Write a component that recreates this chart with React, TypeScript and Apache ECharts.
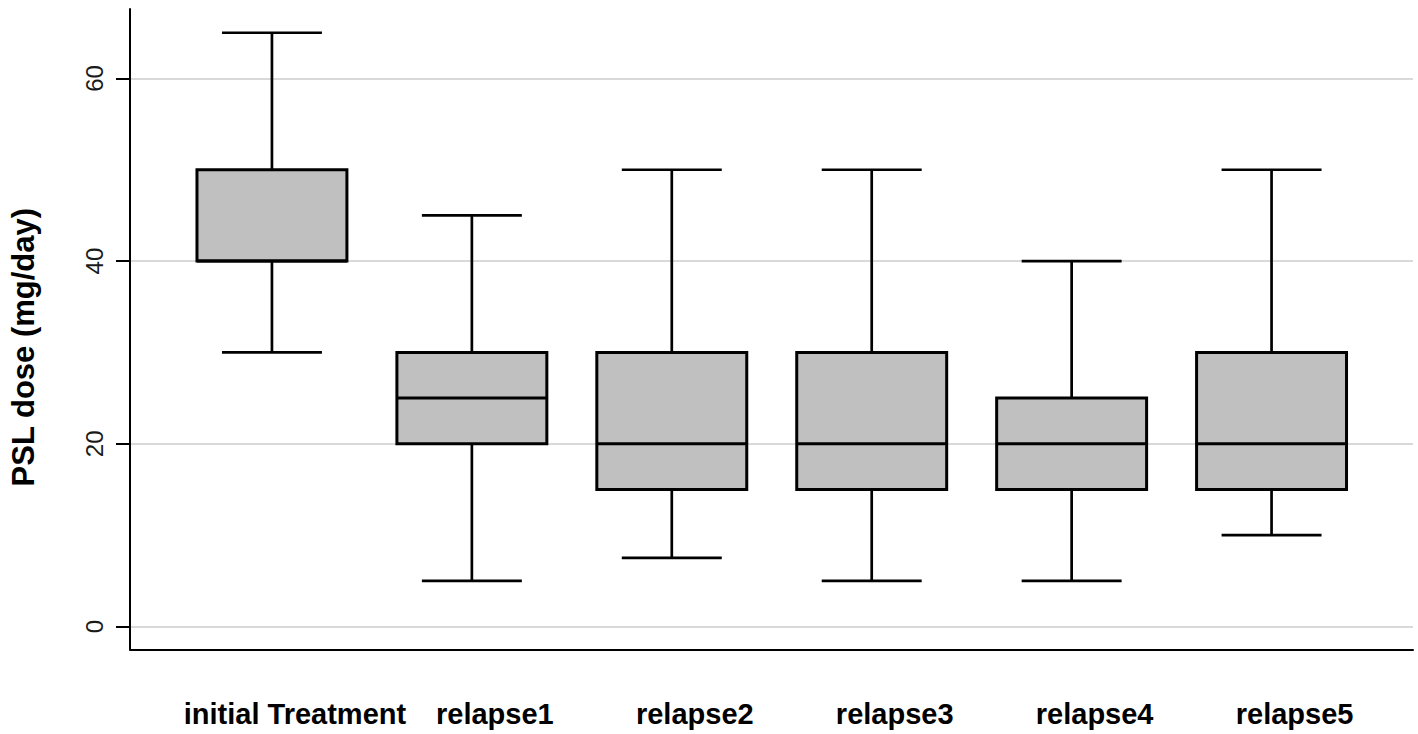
import React, { useEffect, useRef } from 'react';
import * as echarts from 'echarts';

const categories = ['initial Treatment', 'relapse1', 'relapse2', 'relapse3', 'relapse4', 'relapse5'];
const lowerWhiskers = [30, 5, 7.5, 5, 5, 10];
const lowerQuartiles = [40, 20, 15, 15, 15, 15];
const medians = [40, 25, 20, 20, 20, 20];
const upperQuartiles = [50, 30, 30, 30, 25, 30];
const upperWhiskers = [65, 45, 50, 50, 40, 50];
const yTicks = [0, 20, 40, 60];
const yTitle = 'PSL dose (mg/day)';

const FONT = '"Liberation Sans", Arial, Helvetica, sans-serif';

const renderItem = (params: any, api: any) => {
  const x = api.value(0);
  const lo = api.coord([x, api.value(1)]);
  const q1 = api.coord([x, api.value(2)]);
  const md = api.coord([x, api.value(3)]);
  const q3 = api.coord([x, api.value(4)]);
  const hi = api.coord([x, api.value(5)]);
  const boxW = api.size([0.75, 0])[0];
  const capW = api.size([0.5, 0])[0];
  const cx = lo[0];
  const ls = { stroke: '#000', lineWidth: 2.7, fill: null };
  return {
    type: 'group',
    children: [
      { type: 'line', shape: { x1: cx, y1: hi[1], x2: cx, y2: q3[1] }, style: ls },
      { type: 'line', shape: { x1: cx, y1: q1[1], x2: cx, y2: lo[1] }, style: ls },
      { type: 'line', shape: { x1: cx - capW / 2, y1: hi[1], x2: cx + capW / 2, y2: hi[1] }, style: ls },
      { type: 'line', shape: { x1: cx - capW / 2, y1: lo[1], x2: cx + capW / 2, y2: lo[1] }, style: ls },
      {
        type: 'rect',
        shape: { x: cx - boxW / 2, y: q3[1], width: boxW, height: q1[1] - q3[1] },
        style: { fill: '#c0c0c0', stroke: '#000', lineWidth: 3 },
      },
      { type: 'line', shape: { x1: cx - boxW / 2, y1: md[1], x2: cx + boxW / 2, y2: md[1] }, style: { ...ls, lineWidth: 3 } },
    ],
  };
};

export default function App() {
  const ref = useRef<HTMLDivElement>(null);
  useEffect(() => {
    const chart = echarts.init(ref.current!, null, { renderer: 'svg' });
    const positions = categories.map((_, i) => i + 1);
    const data = categories.map((_, i) => [
      positions[i],
      lowerWhiskers[i],
      lowerQuartiles[i],
      medians[i],
      upperQuartiles[i],
      upperWhiskers[i],
    ]);
    chart.setOption({
      animation: false,
      backgroundColor: '#fff',
      grid: { left: 129.5, top: 9, width: 1283.5, height: 640.3 },
      xAxis: {
        type: 'value',
        min: 0.29,
        max: 6.7075,
        axisLine: { show: true, onZero: false, lineStyle: { color: '#000', width: 2 } },
        axisTick: { show: false, customValues: positions },
        splitLine: { show: false },
        axisLabel: {
          customValues: positions,
          formatter: (v: number) => categories[Math.round(v) - 1] ?? '',
          margin: 50,
          fontSize: 29,
          fontWeight: 'bold',
          color: '#000',
          fontFamily: FONT,
          padding: [0, 0, 0, 46],
        },
      },
      yAxis: {
        type: 'value',
        min: -2.5,
        max: 67.6,
        name: yTitle,
        nameLocation: 'middle',
        nameRotate: 90,
        nameGap: 91,
        nameTextStyle: {
          fontSize: 31,
          fontWeight: 'bold',
          color: '#000',
          fontFamily: FONT,
          padding: [0, 36, 0, 0],
        },
        axisLine: { show: true, onZero: false, lineStyle: { color: '#000', width: 2 } },
        axisTick: { show: true, length: 14, customValues: yTicks, lineStyle: { color: '#000', width: 2 } },
        axisLabel: { customValues: yTicks, rotate: 90, margin: 24, fontSize: 24, color: '#1a1a1a', fontFamily: FONT },
        splitLine: { show: true, lineStyle: { color: '#d9d9d9', width: 2 } },
      },
      series: [
        {
          type: 'custom',
          renderItem,
          data,
          encode: { x: 0, y: [1, 2, 3, 4, 5] },
          clip: false,
        },
      ],
    });
    return () => chart.dispose();
  }, []);
  return <div ref={ref} style={{ position: 'fixed', left: 0, top: 0, width: 1418, height: 734 }} />;
}
